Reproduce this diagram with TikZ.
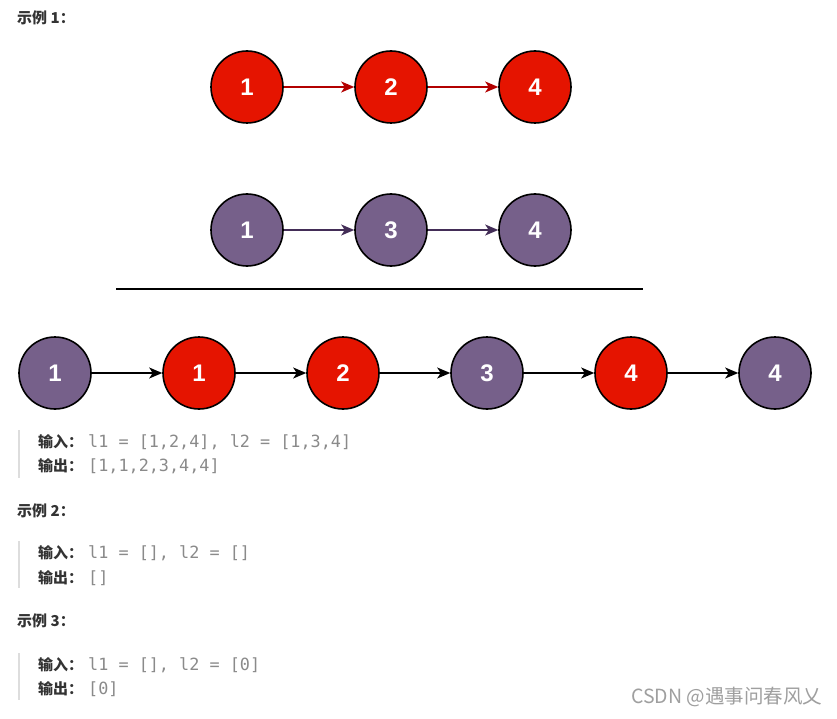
\documentclass[tikz,border=0pt]{standalone}
\usepackage{fontspec}
\setmainfont{Liberation Sans}
\newfontfamily\cjk{Noto Sans CJK SC}
\newfontfamily\code{DejaVu Sans Mono}
\usetikzlibrary{arrows.meta}
\definecolor{nred}{HTML}{E51400}
\definecolor{npur}{HTML}{76608A}
\definecolor{ared}{HTML}{B20000}
\definecolor{apur}{HTML}{432D57}
\definecolor{codegray}{HTML}{8A8A8A}
\definecolor{bargray}{HTML}{DDDDDD}
\definecolor{txt}{HTML}{333333}
\tikzset{
  ll/.style={circle, draw=black, line width=1.6pt, minimum size=72pt, inner sep=0pt,
    text=white, font=\fontsize{24}{24}\selectfont\bfseries},
  rednode/.style={ll, fill=nred},
  purnode/.style={ll, fill=npur},
  link/.style={line width=1.3pt, -{Stealth[length=13pt,width=11pt,inset=3.5pt]}},
  heading/.style={anchor=west, inner sep=0pt, text=txt, font=\cjk\fontsize{15}{15}\selectfont\bfseries},
  lab/.style={anchor=west, inner sep=0pt, text=txt, font=\cjk\fontsize{15}{15}\selectfont\bfseries},
  codetxt/.style={anchor=west, inner sep=0pt, text=codegray, font=\code\fontsize{16.8}{16.8}\selectfont},
  bar/.style={draw=bargray, line width=2pt},
}
\begin{document}
\begin{tikzpicture}[x=1pt,y=-1pt]
\useasboundingbox[fill=white] (0,0) rectangle (837,719);
% headings
\node[heading] (h1) at (17,18) {示例 1：};
% top list
\node[rednode] (a1) at (247,87) {1};
\node[rednode] (a2) at (391,87) {2};
\node[rednode] (a4) at (535,87) {4};
\draw[link, ared] (a1) -- (a2);
\draw[link, ared] (a2) -- (a4);
% second list
\node[purnode] (b1) at (247,230) {1};
\node[purnode] (b3) at (391,230) {3};
\node[purnode] (b4) at (535,230) {4};
\draw[link, apur] (b1) -- (b3);
\draw[link, apur] (b3) -- (b4);
% separator
\coordinate (s1) at (116,289);
\coordinate (s2) at (643,289);
\draw[line width=2pt] (s1) -- (s2);
% merged list
\node[purnode] (c1) at (55,373) {1};
\node[rednode] (c2) at (199,373) {1};
\node[rednode] (c3) at (343,373) {2};
\node[purnode] (c4) at (487,373) {3};
\node[rednode] (c5) at (631,373) {4};
\node[purnode] (c6) at (775,373) {4};
\foreach \p/\q in {c1/c2,c2/c3,c3/c4,c4/c5,c5/c6}
  \draw[link, black] (\p) -- (\q);
% example 1 text
\coordinate (q1t) at (19,430);
\coordinate (q1b) at (19,478);
\draw[bar] (q1t) -- (q1b);
\node[lab] (i1) at (38,442) {输入：};
\node[codetxt] (i1c) at (88,442) {l1 = [1,2,4], l2 = [1,3,4]};
\node[lab] (o1) at (38,466) {输出：};
\node[codetxt] (o1c) at (88,466) {[1,1,2,3,4,4]};
% example 2
\node[heading] (h2) at (17,511) {示例 2：};
\coordinate (q2t) at (19,541);
\coordinate (q2b) at (19,588);
\draw[bar] (q2t) -- (q2b);
\node[lab] (i2) at (38,553) {输入：};
\node[codetxt] (i2c) at (88,553) {l1 = [], l2 = []};
\node[lab] (o2) at (38,578) {输出：};
\node[codetxt] (o2c) at (88,578) {[]};
% example 3
\node[heading] (h3) at (17,621) {示例 3：};
\coordinate (q3t) at (19,653);
\coordinate (q3b) at (19,700);
\draw[bar] (q3t) -- (q3b);
\node[lab] (i3) at (38,665) {输入：};
\node[codetxt] (i3c) at (88,665) {l1 = [], l2 = [0]};
\node[lab] (o3) at (38,689) {输出：};
\node[codetxt] (o3c) at (88,689) {[0]};
% watermark
\node[anchor=west, inner sep=0pt, text=gray!75, font=\cjk\fontsize{19.5}{19.5}\selectfont] (wm) at (631,697) {CSDN @遇事问春风乂};
\end{tikzpicture}
\end{document}
